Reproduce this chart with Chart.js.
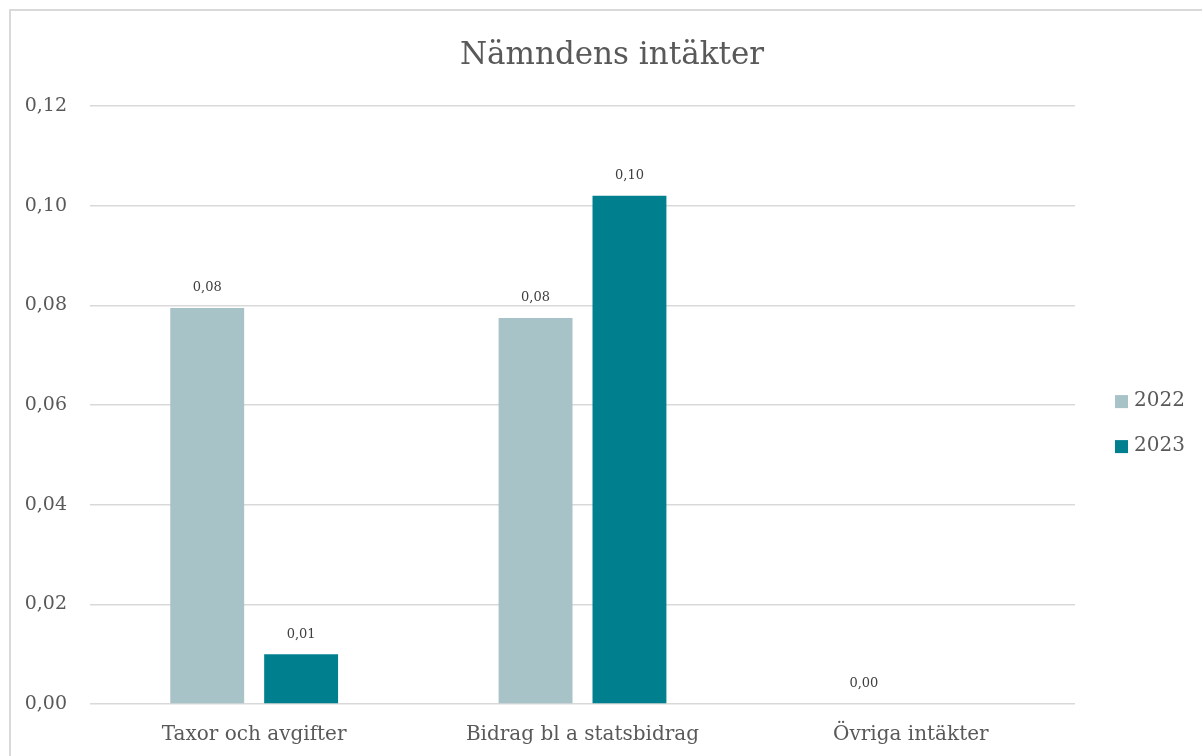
<!DOCTYPE html>
<html>
<head>
<meta charset="utf-8">
<script src="https://cdn.jsdelivr.net/npm/chart.js@4"></script>
<style>
  body { margin: 0; background: #fff; overflow: hidden; }
  #wrap { position: absolute; left: 0; top: 0; width: 1202px; height: 756px; }
</style>
</head>
<body>
<div id="wrap"><canvas id="chart"></canvas></div>
<script>
const categories = ["Taxor och avgifter", "Bidrag bl a statsbidrag", "Övriga intäkter"];
const values2022 = [0.0795, 0.0775, 0];
const values2023 = [0.010, 0.102, null];
const yTicks = [0, 0.02, 0.04, 0.06, 0.08, 0.10, 0.12];

const FONT = "'DejaVu Serif', serif";
const fmt = (v) => v.toFixed(2).replace(".", ",");

// frame line at top and left, like the pasted chart object
const frame = {
  id: "frame",
  beforeDraw(chart) {
    const ctx = chart.ctx;
    ctx.save();
    ctx.strokeStyle = "#d9d9d9";
    ctx.lineWidth = 2;
    ctx.beginPath();
    ctx.moveTo(10, chart.height);
    ctx.lineTo(10, 10);
    ctx.lineTo(chart.width, 10);
    ctx.stroke();
    ctx.restore();
  }
};

// legend to the right of the plot, drawn from the datasets
const sideLegend = {
  id: "sideLegend",
  afterDraw(chart) {
    const ctx = chart.ctx;
    const area = chart.chartArea;
    const x = area.right + 40;
    let y = area.top + area.height / 2 - 4;
    ctx.save();
    ctx.font = "20px " + FONT;
    ctx.textBaseline = "middle";
    ctx.textAlign = "left";
    chart.data.datasets.forEach((ds) => {
      ctx.fillStyle = ds.backgroundColor;
      ctx.fillRect(x, y - 6, 13, 13);
      ctx.fillStyle = "#595959";
      ctx.fillText(ds.label, x + 19, y);
      y += 45;
    });
    ctx.restore();
  }
};

// draws the value above each bar
const barLabels = {
  id: "barLabels",
  afterDatasetsDraw(chart) {
    const ctx = chart.ctx;
    ctx.save();
    ctx.font = "13px " + FONT;
    ctx.fillStyle = "#404040";
    ctx.textAlign = "center";
    ctx.textBaseline = "middle";
    chart.data.datasets.forEach((ds, i) => {
      chart.getDatasetMeta(i).data.forEach((bar, j) => {
        const v = ds.data[j];
        if (v === null || v === undefined) return;
        ctx.fillText(fmt(v), bar.x, bar.y - 20);
      });
    });
    ctx.restore();
  }
};

const ctx = document.getElementById("chart").getContext("2d");
const myChart = new Chart(ctx, {
  type: "bar",
  data: {
    labels: categories,
    datasets: [
      { label: "2022", data: values2022, backgroundColor: "#a7c3c8" },
      { label: "2023", data: values2023, backgroundColor: "#00808f" }
    ]
  },
  options: {
    responsive: true,
    maintainAspectRatio: false,
    animation: false,
    events: [],
    layout: { padding: { left: 22, right: 0, top: 0, bottom: 0 } },
    datasets: {
      bar: { categoryPercentage: 0.572, barPercentage: 0.787 }
    },
    scales: {
      x: {
        afterFit: (s) => { s.height = 52; },
        grid: { display: false },
        border: { display: false },
        ticks: { color: "#595959", font: { family: FONT, size: 20 }, padding: 11 }
      },
      y: {
        min: 0,
        max: 0.12,
        afterFit: (s) => { s.width = 68; },
        afterBuildTicks: (s) => { s.ticks = yTicks.map((v) => ({ value: v })); },
        grid: { color: "#d9d9d9", lineWidth: 1.5, drawTicks: false },
        border: { display: false },
        ticks: {
          color: "#595959",
          font: { family: FONT, size: 19 },
          padding: 23,
          callback: (v) => fmt(v)
        }
      },
      // empty space on the right that holds the legend
      legendSpace: {
        type: "linear",
        position: "right",
        afterFit: (s) => { s.width = 127; },
        grid: { display: false },
        border: { display: false },
        ticks: { display: false }
      }
    },
    plugins: {
      title: {
        display: true,
        text: "Nämndens intäkter",
        color: "#595959",
        font: { family: FONT, size: 31, weight: "normal" },
        padding: { top: 37, bottom: 32 }
      },
      legend: { display: false },
      tooltip: { enabled: false }
    }
  },
  plugins: [frame, sideLegend, barLabels]
});
</script>
</body>
</html>
